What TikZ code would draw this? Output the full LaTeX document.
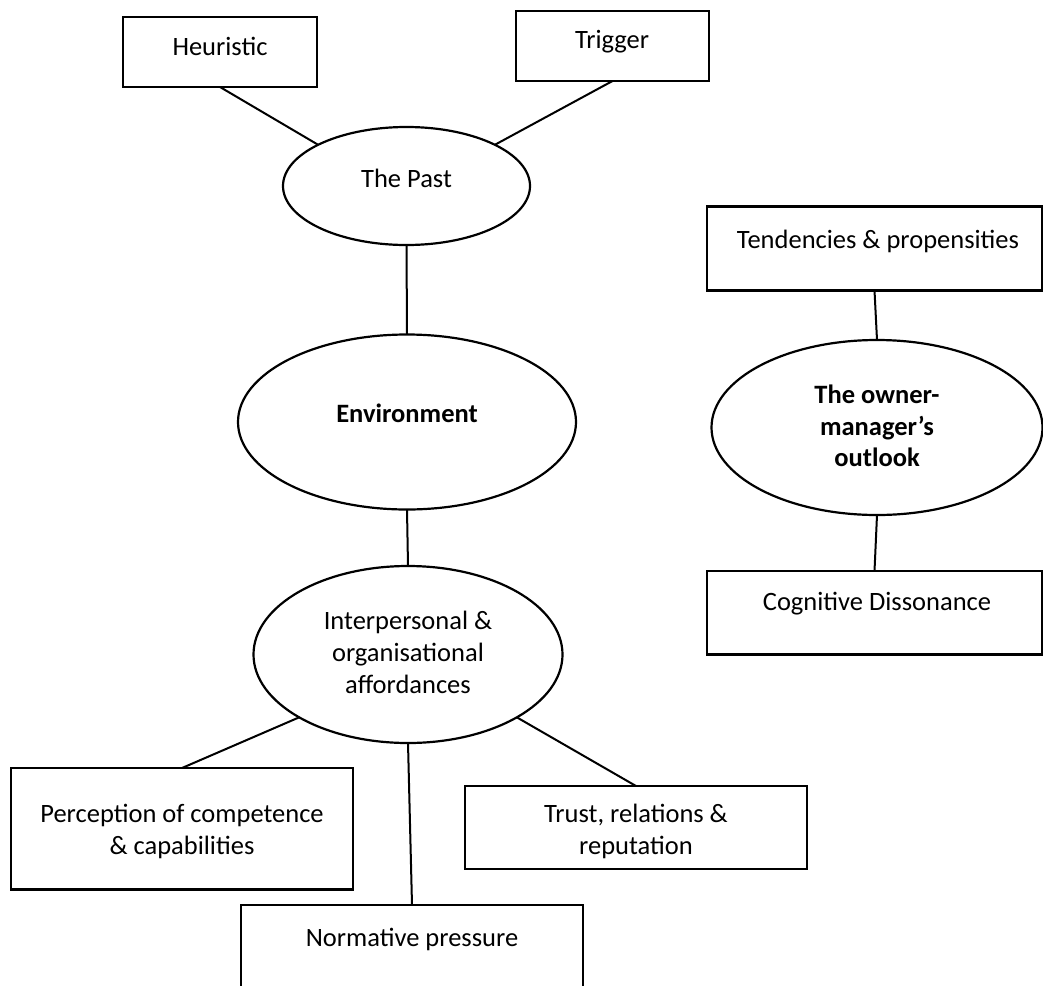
\documentclass[tikz,border=0pt]{standalone}
\usepackage{fontspec}
\setmainfont{Carlito}
\usetikzlibrary{shapes.geometric}

\begin{document}
\begin{tikzpicture}[x=1pt,y=-1pt,
  line width=2.2pt,
  every node/.style={inner sep=0pt, outer sep=0pt},
  boxshape/.style={draw, rectangle, anchor=north west},
  ovalshape/.style={draw, ellipse},
  lbl/.style={anchor=base, align=center, font=\fontsize{26.5}{32}\selectfont},
  blbl/.style={lbl, font=\fontsize{26.5}{32}\selectfont\bfseries},
  link/.style={line width=2pt}
]
\clip (0,0) rectangle (1043,985);
\fill[white] (0,0) rectangle (1043,985);

% upper left cluster: the past and its two boxes
\node[boxshape, minimum width=194, minimum height=70] (heur) at (123,17) {};
\node[lbl] (heurT) at (220,55) {Heuristic};
\node[boxshape, minimum width=193, minimum height=70] (trig) at (516,11) {};
\node[lbl] (trigT) at (612,48) {Trigger};
\node[ovalshape, minimum width=247, minimum height=118] (past) at (406.5,186) {};
\node[lbl] (pastT) at (406.5,187) {The Past};

% central ellipse
\node[ovalshape, minimum width=338, minimum height=175] (env) at (407,422) {};
\node[blbl] (envT) at (407,422) {Environment};

% affordances and the three boxes under it
\node[ovalshape, minimum width=309, minimum height=177] (inter) at (408,654.5) {};
\node[lbl] (interT1) at (408,629.3) {Interpersonal \&};
\node[lbl] (interT2) at (408,661.5) {organisational};
\node[lbl] (interT3) at (408,693.5) {affordances};

\node[boxshape, minimum width=342, minimum height=121.5] (perc) at (11,768) {};
\node[lbl] (percT1) at (182,822.7) {Perception of competence};
\node[lbl] (percT2) at (182,854.5) {\& capabilities};

\node[boxshape, minimum width=342, minimum height=83] (trust) at (465,786) {};
\node[lbl] (trustT1) at (636,822.7) {Trust, relations \&};
\node[lbl] (trustT2) at (636,854.5) {reputation};

\node[boxshape, minimum width=342, minimum height=130] (norm) at (241,905) {};
\node[lbl] (normT) at (412,946.7) {Normative pressure};

% right-hand cluster: the owner-manager's outlook
\node[boxshape, minimum width=335, minimum height=84] (tend) at (707,206.5) {};
\node[lbl] (tendT) at (878,248.3) {Tendencies \& propensities};
\node[ovalshape, minimum width=331, minimum height=175] (owner) at (877,427.5) {};
\node[blbl] (ownerT1) at (877,403.3) {The owner-};
\node[blbl] (ownerT2) at (877,435) {manager’s};
\node[blbl] (ownerT3) at (877,466.7) {outlook};
\node[boxshape, minimum width=335, minimum height=83.5] (cogn) at (707,571) {};
\node[lbl] (cognT) at (877,610.7) {Cognitive Dissonance};

% connectors
\draw[link] (heur.south) -- (past.155);
\draw[link] (trig.south) -- (past.25);
\draw[link] (past.south) -- (env.north);
\draw[link] (env.south) -- (inter.north);
\draw[link] (inter.210) -- (perc.north);
\draw[link] (inter.330) -- (trust.north);
\draw[link] (inter.south) -- (norm.north);
\draw[link] (tend.south) -- (owner.north);
\draw[link] (owner.south) -- (cogn.north);
\end{tikzpicture}
\end{document}
